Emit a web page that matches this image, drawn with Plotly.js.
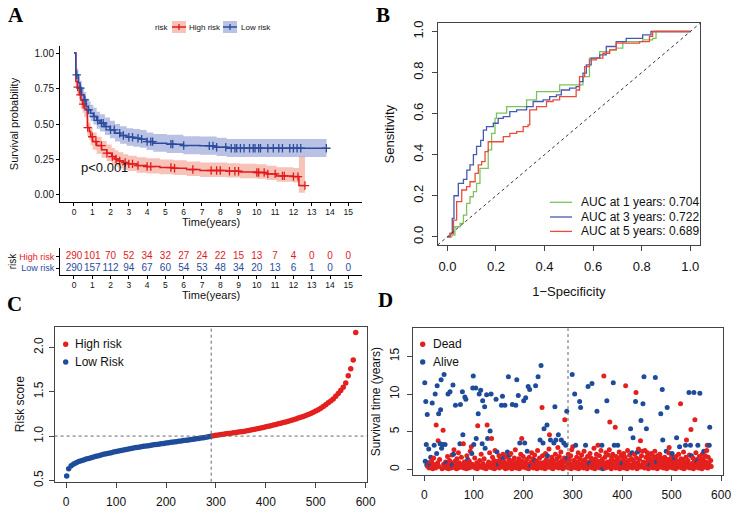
<!DOCTYPE html>
<html><head><meta charset="utf-8">
<script src="https://cdn.plot.ly/plotly-3.0.1.min.js"></script>
<style>html,body{margin:0;padding:0;background:#fff}#chart{width:733px;height:520px}</style>
</head><body><div id="chart"></div>
<script>
// ---------- Panel A: Kaplan-Meier ----------
const hiT  = [0,0.1,0.18,0.29,0.38,0.47,0.56,0.66,0.73,0.84,0.91,1.02,1.24,1.51,1.79,2.06,2.24,2.42,2.7,2.97,3.43,3.97,4.7,5.43,6.16,6.89,8.35,9.08,9.99,10.53,11.08,11.99,12.3,12.63];
const hiS  = [1,0.8,0.76,0.706,0.67,0.64,0.61,0.6,0.475,0.447,0.41,0.376,0.348,0.318,0.294,0.27,0.254,0.24,0.228,0.219,0.207,0.2,0.193,0.188,0.179,0.172,0.167,0.162,0.158,0.148,0.134,0.129,0.066,0.066];
const hiLo = [1,0.75,0.71,0.65,0.61,0.58,0.55,0.54,0.415,0.387,0.35,0.318,0.29,0.262,0.238,0.215,0.2,0.187,0.176,0.168,0.157,0.151,0.145,0.141,0.133,0.127,0.122,0.118,0.114,0.105,0.092,0.087,0.016,0.016];
const hiUp = [1,0.85,0.81,0.76,0.73,0.70,0.67,0.66,0.54,0.51,0.475,0.44,0.41,0.38,0.355,0.33,0.315,0.3,0.287,0.277,0.265,0.258,0.25,0.245,0.235,0.228,0.224,0.22,0.216,0.205,0.195,0.19,0.27,0.27];
const loT  = [0,0.1,0.24,0.33,0.42,0.55,0.66,0.78,0.91,1.06,1.24,1.42,1.69,1.97,2.24,2.52,2.88,3.24,3.61,3.97,4.34,5.07,5.98,6.89,7.8,8.35,13.81];
const loS  = [1,0.847,0.79,0.753,0.706,0.67,0.624,0.6,0.576,0.553,0.525,0.506,0.482,0.459,0.435,0.419,0.407,0.4,0.393,0.376,0.365,0.358,0.348,0.346,0.336,0.329,0.329];
const loLo = [1,0.81,0.745,0.705,0.655,0.617,0.57,0.545,0.52,0.496,0.467,0.447,0.423,0.4,0.376,0.36,0.347,0.34,0.333,0.316,0.305,0.296,0.287,0.284,0.274,0.268,0.268];
const loUp = [1,0.89,0.84,0.805,0.76,0.725,0.68,0.66,0.636,0.614,0.587,0.569,0.546,0.523,0.5,0.485,0.47,0.464,0.457,0.44,0.43,0.424,0.414,0.412,0.403,0.395,0.395];
const hiCensor = [0.2,0.35,0.5,0.75,1.0,1.2,1.5,1.8,2.1,2.3,2.5,2.8,3.0,3.2,3.5,4.0,4.2,5.3,5.5,6.5,7.5,7.8,8.0,8.5,8.8,9.0,10.0,10.1,10.4,10.6,11.0,11.4,11.5,12.0,12.25,12.63];
const loCensor = [0.15,0.35,0.6,0.8,1.1,1.3,1.5,1.6,1.75,2.0,2.2,2.5,2.7,3.0,3.2,3.5,3.7,4.0,4.2,4.3,5.3,5.4,6.0,7.4,7.6,7.8,8.3,8.6,8.8,8.9,9.1,9.3,9.6,9.8,9.9,10.1,10.2,10.6,10.9,11.2,11.4,11.8,12.0,12.2,12.4,13.8];
const groupNames = ['High risk','Low risk'];
const pText = 'p<0.001';
// risk table
const tableTimes = [0,1,2,3,4,5,6,7,8,9,10,11,12,13,14,15];
const hiRisk = [290,101,70,52,34,32,27,24,22,15,13,7,4,0,0,0];
const loRisk = [290,157,112,94,67,60,54,53,48,34,20,13,6,1,0,0];

// ---------- Panel B: time-dependent ROC ----------
const fpr1 = [0,0.018,0.031,0.052,0.066,0.079,0.093,0.107,0.12,0.134,0.161,0.168,0.182,0.196,0.202,0.23,0.244,0.285,0.326,0.367,0.449,0.462,0.544,0.558,0.585,0.627,0.668,0.695,0.722,0.804,0.845,0.859,1];
const tpr1 = [0,0.008,0.049,0.065,0.106,0.163,0.195,0.22,0.26,0.333,0.333,0.423,0.504,0.577,0.602,0.602,0.634,0.634,0.667,0.707,0.707,0.74,0.74,0.78,0.87,0.902,0.911,0.919,0.951,0.959,0.967,1,1];
const fpr3 = [0,0.011,0.02,0.027,0.041,0.045,0.066,0.08,0.093,0.107,0.12,0.137,0.148,0.161,0.189,0.209,0.23,0.257,0.285,0.326,0.353,0.394,0.421,0.449,0.469,0.503,0.53,0.544,0.558,0.572,0.592,0.627,0.654,0.695,0.736,0.777,0.804,0.838,1];
const tpr3 = [0,0.016,0.09,0.2,0.2,0.26,0.28,0.325,0.35,0.4,0.44,0.47,0.52,0.537,0.553,0.577,0.585,0.61,0.618,0.634,0.659,0.667,0.683,0.691,0.715,0.724,0.732,0.756,0.797,0.837,0.87,0.886,0.927,0.951,0.967,0.967,0.984,1,1];
const fpr5 = [0,0.011,0.025,0.038,0.052,0.059,0.079,0.093,0.114,0.127,0.141,0.155,0.168,0.202,0.23,0.257,0.285,0.312,0.332,0.339,0.367,0.408,0.435,0.462,0.53,0.544,0.565,0.585,0.613,0.64,0.668,0.695,0.736,0.791,0.832,0.845,1];
const tpr5 = [0,0.016,0.081,0.171,0.171,0.228,0.244,0.268,0.309,0.35,0.366,0.415,0.463,0.463,0.488,0.504,0.512,0.537,0.545,0.618,0.634,0.659,0.667,0.683,0.715,0.78,0.829,0.862,0.87,0.894,0.911,0.943,0.943,0.951,0.976,1,1];
const aucLabels = ['AUC at 1 years: 0.704','AUC at 3 years: 0.722','AUC at 5 years: 0.689'];

// ---------- Panel C: risk score (every 5th ranked patient) ----------
const scoreStep = 5;
const lowRiskScore = [0.548,0.63,0.665,0.685,0.70,0.712,0.722,0.73,0.74,0.748,0.755,0.763,0.771,0.779,0.787,0.794,0.80,0.807,0.813,0.82,0.826,0.832,0.838,0.843,0.849,0.855,0.86,0.865,0.87,0.875,0.88,0.884,0.888,0.892,0.897,0.901,0.905,0.909,0.913,0.917,0.921,0.925,0.929,0.933,0.937,0.941,0.945,0.949,0.953,0.957,0.961,0.965,0.969,0.973,0.977,0.982,0.987,0.993,0.999];
const highRiskScore = [1.004,1.009,1.013,1.017,1.021,1.025,1.029,1.033,1.037,1.041,1.045,1.049,1.053,1.058,1.063,1.068,1.074,1.08,1.086,1.092,1.098,1.104,1.11,1.117,1.124,1.131,1.138,1.145,1.152,1.16,1.168,1.176,1.185,1.194,1.203,1.212,1.222,1.232,1.243,1.255,1.268,1.282,1.297,1.315,1.335,1.355,1.375,1.395,1.42,1.45,1.48,1.515,1.55,1.6,1.68,1.76,1.86,2.17];
const riskCutoff = 1.0;
const nLow = 290;
const riskLegend = ['High risk','Low Risk'];

// ---------- Panel D: survival time per ranked patient ----------
const survTimeRows = [
 [11.5,1.1,9.0,3.3,0.6,7.3,0.4,0.9,2.7,0.2,0.8,0.5,1.6,0.3,1.2,8.8,0.1,0.7,1.5,3.2],
 [0.6,10.0,0.2,5.9,2.1,11.1,0.9,3.8,7.4,0.4,1.3,3.4,7.9,11.9,2.8,0.1,3.3,5.2,0.7,12.6],
 [0.3,3.3,1.0,0.8,0.2,0.5,1.7,10.0,0.1,0.6,1.2,10.3,0.4,0.9,0.2,1.9,0.6,11.2,2.0,2.6],
 [0.3,1.1,8.5,0.5,0.1,1.4,0.7,0.2,2.2,0.4,0.9,3.4,8.6,0.3,1.6,0.6,10.3,4.6,3.4,0.2],
 [1.0,9.6,0.5,9.3,0.1,1.8,0.4,1.3,0.8,0.2,1.1,0.6,2.4,0.3,3.0,2.1,0.7,10.8,12.4,3.3],
 [0.4,1.5,0.2,10.8,4.1,0.9,0.1,5.8,7.4,0.6,10.0,1.2,0.3,10.5,2.0,0.5,3.4,9.1,0.8,0.2],
 [1.4,8.3,2.8,0.4,0.1,9.9,5.9,4.1,0.7,1.0,0.3,2.2,5.1,0.6,10.0,4.1,0.2,1.6,0.9,0.4],
 [1.2,0.1,2.5,0.7,9.3,0.3,2.3,1.1,0.5,0.7,1.8,0.2,0.9,1.4,0.4,8.5,0.6,9.7,2.0,1.5],
 [0.3,1.0,8.5,0.1,1.7,0.5,0.8,2.3,0.2,12.3,1.3,1.9,0.6,0.4,2.1,0.9,0.1,8.6,1.2,0.7],
 [0.3,1.5,0.5,2.6,8.5,0.2,11.9,1.0,0.6,9.8,1.4,0.1,3.5,0.8,2.0,0.4,4.1,1.1,0.3,1.7],
 [9.1,0.5,3.5,0.9,9.5,0.2,1.3,2.4,0.7,11.0,0.1,1.6,10.6,0.4,0.5,1.0,2.2,0.3,0.8,1.4],
 [0.2,0.6,1.9,1.2,11.1,0.4,1.1,0.1,2.5,12.3,0.7,0.3,1.5,3.9,0.9,13.8,0.2,8.2,1.8,3.5],
 [0.5,5.4,1.0,0.1,2.1,0.6,1.3,5.9,1.8,0.3,0.8,2.7,4.6,0.4,3.9,1.2,0.2,1.6,0.7,0.1],
 [1.1,3.5,0.5,8.3,2.0,3.9,0.3,1.4,0.8,2.9,4.6,0.2,1.7,0.6,1.0,2.3,3.9,0.4,1.2,0.1],
 [0.9,3.5,1.5,6.6,0.3,3.2,1.1,7.7,1.5,0.6,2.0,0.2,1.3,0.8,0.4,1.8,0.1,2.6,12.6,3.0],
 [0.7,1.2,0.3,10.0,0.9,3.2,0.2,1.6,0.5,1.0,2.2,0.1,0.8,9.0,1.4,8.2,0.4,1.9,0.6,0.3],
 [1.1,0.2,2.4,0.7,1.3,3.2,0.5,0.9,0.1,1.7,11.0,0.4,1.0,0.8,2.1,0.3,1.5,0.6,11.4,0.2],
 [1.2,0.5,2.8,0.9,0.1,1.4,0.7,2.0,7.7,0.3,3.2,1.1,0.4,1.8,0.2,0.8,2.5,0.6,3.2,1.3],
 [0.1,0.9,12.4,0.4,1.6,0.2,2.2,0.7,9.1,1.0,0.3,1.9,0.5,2.6,6.3,0.8,1.2,0.1,1.5,0.6],
 [2.0,11.5,0.4,3.2,1.1,5.6,0.2,1.7,0.9,0.3,3.2,1.4,0.6,2.3,0.1,1.0,0.5,1.8,0.8,0.8],
 [0.3,1.3,2.1,0.2,0.7,1.6,11.1,0.4,1.0,0.1,2.5,0.9,1.2,0.5,1.9,0.3,5.4,0.6,1.4,2.2],
 [0.2,4.2,1.1,0.7,2.0,0.4,9.0,10.2,1.5,0.1,2.3,0.9,2.7,0.5,1.3,0.3,3.8,6.5,1.8,0.6],
 [2.4,8.7,1.0,12.3,0.2,2.5,0.8,1.6,5.4,0.4,2.2,1.2,0.1,1.9,0.7,0.6,1.4,0.3,2.1,0.9],
 [0.5,1.1,0.2,1.7,0.8,2.4,12.2,0.4,1.3,1.0,0.1,1.8,0.6,1.2,0.3,2.0,0.9,7.4,1.5,0.5],
 [10.6,3.9,0.2,1.1,0.7,1.6,0.4,1.0,2.4,0.1,8.2,1.3,0.6,2.2,2.9,0.3,0.9,1.4,0.5,1.8],
 [2.1,0.2,1.2,0.8,0.4,1.5,1.0,0.1,1.7,4.2,0.6,1.1,0.3,2.0,0.9,3.0,0.5,8.7,1.4,0.2],
 [0.7,1.3,0.4,2.3,0.1,1.0,0.6,3.2,1.6,3.9,0.3,0.9,1.2,0.5,10.2,1.9,0.2,3.2,5.3,1.8],
 [0.8,0.4,1.5,0.1,10.2,1.1,6.6,0.6,2.2,0.3,1.3,1.1,3.2,0.9,0.2,1.7,10.1,0.5,1.2,0.7],
 [0.1,2.0,0.4,1.4,2.4,0.8,0.3,1.8,1.0,0.6,2.5,3.2,0.2,1.6,0.9,3.2,5.6,0.5,1.2,0.4]
];
const statusRows = [
 "AAAAAADAADDAADDADDDA","DADDAADDADDAAAADADDA","DADADDDADDDADDDDAAAD","DDADDDDDDDDAADDDAADD",
 "DADADDDADDDDDDDADAAA","DDDAADDDADADDADDAADD","DAADDADADDDDADADDDDD","DDDDADADDADDDDDADADA",
 "DDADDDDADADADDDDDADD","DDDDADADDADDADDDDDDD","ADADADDADADDADADDDDD","DDDAADDDDADDDADADDDA",
 "DADDDDDAADDDDDADDDDD","DADADADDDDADDDDDADDD","DADDDADAADDDDDDDDDAD","DDDADADDDDDDDADADDDD",
 "DDDDDADDDDADDADDDDAD","DDDDDDDDADDDDDDDDDAD","ADDDDDDDADDDDDDDDDDD","DADADDDDDDADDDDDDDDA",
 "DDDDDDDDDDDDDDDDADDA","DADDDDADDDADDDDDDADD","DADADDDDADDDDDDADDDD","DDDDDDADDADDDDDDDADD",
 "AADDDDDDADADDDDDDDDD","ADDDDADDDADDDDDADDDD","DDDDDDDADDDDDDADDADA","DDDDADDDDDDAADDDADDD",
 "DDDDADDDDDDDDDDAADDD"
];
const statusLegend = ['Dead','Alive'];

// ---------- helpers ----------
const W = 733, H = 520;
const RED_A = '#E31A1C', BLUE_A = '#2A4C9C';
const RED = '#E4201E', BLUE = '#1E4C9A';
const GREEN_B = '#7CC35B', BLUE_B = '#4759AE', RED_B = '#EC4B3C';
const FONT = '"Liberation Sans", Arial, sans-serif';
const SERIF = '"Liberation Serif", "Times New Roman", serif';
const px = x => x / W, py = y => 1 - y / H;
const xd = (a, b) => [a / W, b / W];
const yd = (top, bot) => [1 - bot / H, 1 - top / H];
function stepAt(T, S, t) { let v = S[0]; for (let i = 0; i < T.length; i++) { if (T[i] <= t) v = S[i]; } return v; }

const traces = [];
// A: confidence bands
function band(T, lo, up, fill) {
  traces.push({x: T, y: lo, xaxis: 'x', yaxis: 'y', mode: 'lines', line: {width: 0, shape: 'hv'}, hoverinfo: 'skip', showlegend: false});
  traces.push({x: T, y: up, xaxis: 'x', yaxis: 'y', mode: 'lines', line: {width: 0, shape: 'hv'}, fill: 'tonexty', fillcolor: fill, hoverinfo: 'skip', showlegend: false});
}
const HI_FILL = 'rgba(238,120,95,0.45)', LO_FILL = 'rgba(80,100,190,0.40)';
band(hiT, hiLo, hiUp, HI_FILL);
band(loT, loLo, loUp, LO_FILL);
function km(T, S, cens, col, name) {
  traces.push({x: T, y: S, xaxis: 'x', yaxis: 'y', mode: 'lines', line: {color: col, width: 1.5, shape: 'hv'}, name: name, showlegend: false});
  traces.push({x: cens, y: cens.map(t => stepAt(T, S, t)), xaxis: 'x', yaxis: 'y', mode: 'markers',
    marker: {symbol: 'cross-thin-open', size: 6, color: col, line: {color: col, width: 1.3}}, showlegend: false, hoverinfo: 'skip'});
}
km(hiT, hiS, hiCensor, RED_A, groupNames[0]);
km(loT, loS, loCensor, BLUE_A, groupNames[1]);
// risk table
traces.push({x: tableTimes, y: tableTimes.map(() => 1), text: hiRisk.map(String), mode: 'text', xaxis: 'x2', yaxis: 'y2',
  textfont: {family: FONT, size: 10, color: RED_A}, showlegend: false, cliponaxis: false});
traces.push({x: tableTimes, y: tableTimes.map(() => 0), text: loRisk.map(String), mode: 'text', xaxis: 'x2', yaxis: 'y2',
  textfont: {family: FONT, size: 10, color: BLUE_A}, showlegend: false, cliponaxis: false});

// B: ROC
[[fpr1, tpr1, GREEN_B], [fpr3, tpr3, BLUE_B], [fpr5, tpr5, RED_B]].forEach((r, i) => {
  traces.push({x: r[0], y: r[1], xaxis: 'x3', yaxis: 'y3', mode: 'lines', line: {color: r[2], width: 1.3, shape: 'hv'}, name: aucLabels[i], showlegend: false});
});

// C: risk score
traces.push({x: lowRiskScore.map((v, k) => Math.max(1, k * scoreStep)), y: lowRiskScore, xaxis: 'x4', yaxis: 'y4', mode: 'markers',
  marker: {color: BLUE, size: 5.5}, name: riskLegend[1], showlegend: false});
traces.push({x: highRiskScore.map((v, k) => nLow + (k + 1) * scoreStep), y: highRiskScore, xaxis: 'x4', yaxis: 'y4', mode: 'markers',
  marker: {color: RED, size: 5.5}, name: riskLegend[0], showlegend: false});

// D: survival time scatter
const survTime = survTimeRows.flat();
const status = statusRows.join('').split('');
traces.push({x: survTime.map((v, i) => i + 1), y: survTime, xaxis: 'x5', yaxis: 'y5', mode: 'markers',
  marker: {color: status.map(s => s === 'D' ? RED : BLUE), size: 5}, showlegend: false});

// ---------- axes ----------
const tickF = s => ({family: FONT, size: s, color: '#111'});
const ggX = {showline: true, linecolor: '#000', linewidth: 1, ticks: 'outside', ticklen: 3, tickcolor: '#000', showgrid: false, zeroline: false};
const rBox = {showline: true, mirror: true, linecolor: '#444', linewidth: 1, ticks: 'outside', ticklen: 5, tickcolor: '#444', showgrid: false, zeroline: false};

const layout = {
  width: W, height: H, margin: {l: 0, r: 0, t: 0, b: 0}, paper_bgcolor: '#fff', plot_bgcolor: 'rgba(0,0,0,0)',
  showlegend: false, font: {family: FONT, color: '#111'},
  xaxis: Object.assign({}, ggX, {domain: xd(60, 362), anchor: 'y', range: [-0.765, 15.75], tickvals: tableTimes, tickfont: tickF(8.5), ticklabelstandoff: -1}),
  yaxis: Object.assign({}, ggX, {domain: yd(46, 202), anchor: 'x', range: [-0.05, 1.05], tickvals: [0, 0.25, 0.5, 0.75, 1], tickformat: '.2f',
    tickfont: tickF(10), title: {text: 'Survival probability', font: {family: FONT, size: 11, color: '#111'}, standoff: 13}}),
  xaxis2: Object.assign({}, ggX, {domain: xd(60, 362), anchor: 'y2', range: [-0.765, 15.75], tickvals: tableTimes, tickfont: tickF(8.5), ticklabelstandoff: -1}),
  yaxis2: Object.assign({}, ggX, {domain: yd(248, 275), anchor: 'x2', range: [-0.58, 1.75], tickvals: [0, 1],
    ticktext: ['<span style="color:' + BLUE_A + '">' + groupNames[1] + '</span>', '<span style="color:' + RED_A + '">' + groupNames[0] + '</span>'],
    tickfont: tickF(9), title: {text: 'risk', font: {family: FONT, size: 10, color: '#111'}, standoff: 0}}),
  xaxis3: Object.assign({}, rBox, {domain: xd(437.7, 700), anchor: 'y3', range: [-0.04, 1.04], tickvals: [0, 0.2, 0.4, 0.6, 0.8, 1], tickformat: '.1f',
    tickfont: tickF(13), ticklabelstandoff: 4, title: {text: '1\u2212Specificity', font: {family: FONT, size: 13, color: '#111'}, standoff: 14}}),
  yaxis3: Object.assign({}, rBox, {domain: yd(23.3, 245), anchor: 'x3', range: [-0.04, 1.04], tickvals: [0, 0.2, 0.4, 0.6, 0.8, 1], tickformat: '.1f',
    tickangle: -90, tickfont: tickF(13), ticklabelstandoff: 4, title: {text: 'Sensitivity', font: {family: FONT, size: 13, color: '#111'}, standoff: 12}}),
  xaxis4: Object.assign({}, rBox, {domain: xd(54.6, 367.3), anchor: 'y4', range: [-23.2, 603.2], tickvals: [0, 100, 200, 300, 400, 500, 600],
    tickfont: tickF(12), ticklabelstandoff: 4}),
  yaxis4: Object.assign({}, rBox, {domain: yd(326.7, 481.7), anchor: 'x4', range: [0.485, 2.235], tickvals: [0.5, 1, 1.5, 2], tickformat: '.1f',
    tickangle: -90, tickfont: tickF(12), ticklabelstandoff: 1, title: {text: 'Risk score', font: {family: FONT, size: 12, color: '#111'}, standoff: 4}}),
  xaxis5: Object.assign({}, rBox, {domain: xd(413.3, 722.7), anchor: 'y5', range: [-22.2, 603.2], tickvals: [0, 100, 200, 300, 400, 500, 600],
    tickfont: tickF(12), ticklabelstandoff: 4}),
  yaxis5: Object.assign({}, rBox, {domain: yd(328.3, 475), anchor: 'x5', range: [-0.74, 18.72], tickvals: [0, 5, 10, 15],
    tickangle: -90, tickfont: tickF(12), ticklabelstandoff: 4, title: {text: 'Survival time (years)', font: {family: FONT, size: 12, color: '#111'}, standoff: 4}}),
  shapes: [], annotations: []
};

// reference lines
layout.shapes.push({type: 'line', xref: 'x3', yref: 'y3', x0: -0.04, y0: -0.04, x1: 1.04, y1: 1.04, line: {color: '#333', width: 1, dash: 'dot'}});
layout.shapes.push({type: 'line', xref: 'x4 domain', yref: 'y4', x0: 0, x1: 1, y0: riskCutoff, y1: riskCutoff, line: {color: '#666', width: 1, dash: 'dot'}});
layout.shapes.push({type: 'line', xref: 'x4', yref: 'y4 domain', x0: nLow + 0.5, x1: nLow + 0.5, y0: 0, y1: 1, line: {color: '#666', width: 1, dash: 'dot'}});
layout.shapes.push({type: 'line', xref: 'x5', yref: 'y5 domain', x0: nLow + 0.5, x1: nLow + 0.5, y0: 0, y1: 1, line: {color: '#666', width: 1, dash: 'dot'}});

// helpers for paper-space text and legend keys
function ann(text, x, y, opts) {
  layout.annotations.push(Object.assign({text: text, x: px(x), y: py(y), xref: 'paper', yref: 'paper', showarrow: false,
    xanchor: 'left', yanchor: 'middle', font: {family: FONT, size: 10, color: '#111'}}, opts || {}));
}
function dot(x, y, r, col) {
  layout.shapes.push({type: 'circle', xref: 'paper', yref: 'paper', x0: px(x - r), x1: px(x + r), y0: py(y + r), y1: py(y - r), fillcolor: col, line: {width: 0}});
}
function seg(x0, y0, x1, y1, col, w) {
  layout.shapes.push({type: 'line', xref: 'paper', yref: 'paper', x0: px(x0), x1: px(x1), y0: py(y0), y1: py(y1), line: {color: col, width: w}});
}

// x-axis titles of panel A and its risk table
ann('Time(years)', 211, 221.5, {xanchor: 'center', font: {family: FONT, size: 11, color: '#111'}});
ann('Time(years)', 211, 295, {xanchor: 'center', font: {family: FONT, size: 11, color: '#111'}});

// A legend
ann('risk', 153, 27, {font: {family: FONT, size: 8, color: '#111'}});
[[172, RED_A, HI_FILL, groupNames[0], 187], [223, BLUE_A, LO_FILL, groupNames[1], 238.5]].forEach(k => {
  layout.shapes.push({type: 'rect', xref: 'paper', yref: 'paper', x0: px(k[0]), x1: px(k[0] + 14), y0: py(33), y1: py(21), fillcolor: k[2], line: {width: 0}});
  seg(k[0], 27, k[0] + 14, 27, k[1], 1.5);
  seg(k[0] + 7, 24, k[0] + 7, 30, k[1], 1.3);
  ann(k[3], k[4], 27, {font: {family: FONT, size: 8, color: '#111'}});
});
// p value
layout.annotations.push({text: pText, xref: 'x', yref: 'y', x: 0.3, y: 0.19, xanchor: 'left', yanchor: 'middle', showarrow: false,
  font: {family: FONT, size: 13, color: '#111'}});

// B legend
[[GREEN_B, 202.3], [BLUE_B, 217], [RED_B, 231.4]].forEach((k, i) => {
  seg(550, k[1], 572, k[1], k[0], 1.3);
  ann(aucLabels[i], 579, k[1], {font: {family: FONT, size: 12, color: '#111'}});
});
// C legend
dot(65.7, 344.3, 2.7, RED); dot(65.7, 362, 2.7, BLUE);
ann(riskLegend[0], 72.5, 344.3, {font: {family: FONT, size: 12, color: '#111'}});
ann(riskLegend[1], 72.5, 362, {font: {family: FONT, size: 12, color: '#111'}});
// D legend
dot(422.7, 344.3, 2.7, RED); dot(422.7, 362, 2.7, BLUE);
ann(statusLegend[0], 430.5, 344.3, {font: {family: FONT, size: 12, color: '#111'}});
ann(statusLegend[1], 430.5, 362, {font: {family: FONT, size: 12, color: '#111'}});

// panel letters
[['A', 16, 15], ['B', 383.5, 14.5], ['C', 14.5, 303.5], ['D', 385, 300]].forEach(l => {
  ann(l[0], l[1], l[2], {xanchor: 'center', font: {family: SERIF, size: 21, color: '#000', weight: 700}});
});

Plotly.newPlot('chart', traces, layout, {staticPlot: true, displayModeBar: false});
</script>
</body></html>
